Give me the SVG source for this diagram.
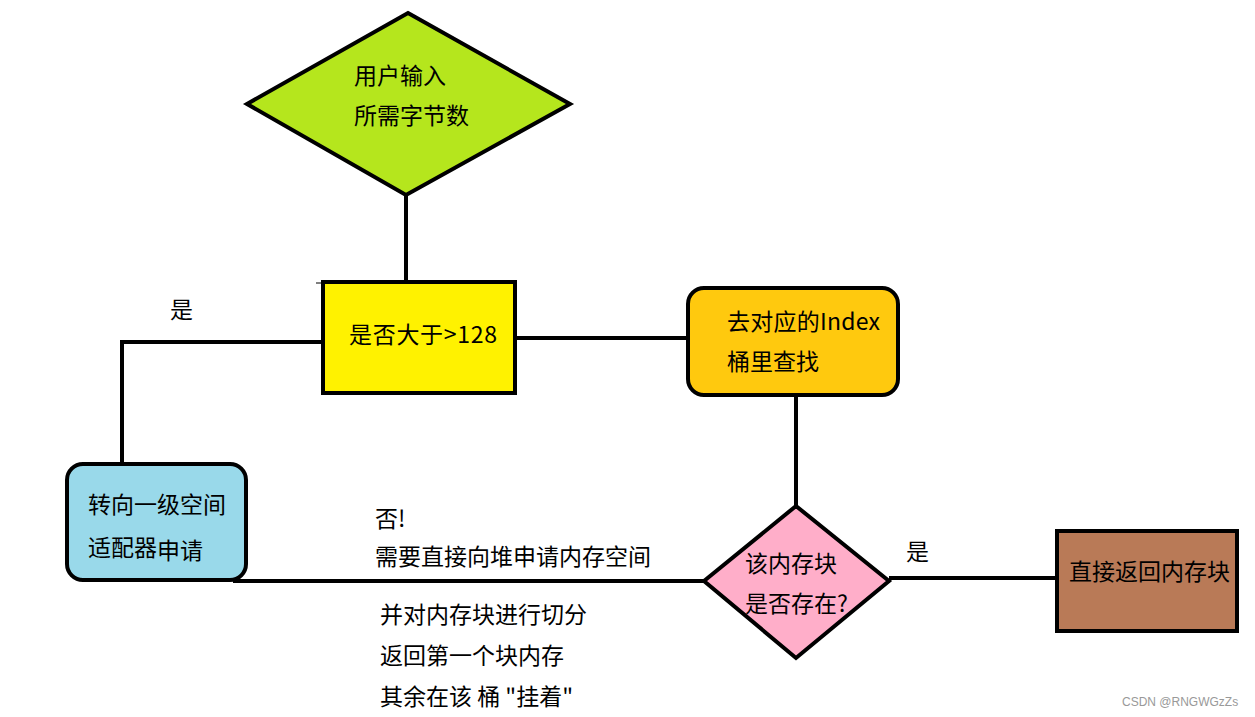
<svg xmlns="http://www.w3.org/2000/svg" width="1255" height="717" viewBox="0 0 1255 717">
<style>
.s{stroke:#000;stroke-width:4;stroke-linejoin:miter}
.t{font-family:"Noto Sans CJK SC","Microsoft YaHei",sans-serif;font-size:23px;fill:#000}
.c{fill:none;stroke:#000;stroke-width:4}
</style>
<rect width="1255" height="717" fill="#fff"/>
<g id="connectors">
<line class="c" x1="406" y1="195" x2="406" y2="282"/>
<polyline class="c" points="323,342 122,342 122,464"/>
<line x1="316" y1="283" x2="323" y2="283" stroke="#000" stroke-width="1"/>
<line class="c" x1="515" y1="338" x2="688" y2="338"/>
<line class="c" x1="796" y1="395" x2="796" y2="506"/>
<line class="c" x1="233" y1="581" x2="704" y2="581"/>
<line class="c" x1="889" y1="578" x2="1057" y2="578"/>
</g>
<g id="n1">
<polygon class="s" fill="#B5E61D" points="408,13 570,104 406,195 247,104"/>
<text class="t" x="354" y="84">用户输入</text>
<text class="t" x="354" y="124">所需字节数</text>
</g>
<g id="n2">
<rect class="s" fill="#FFF200" x="323" y="282" width="192" height="111"/>
<text class="t" x="349" y="343" textLength="148" lengthAdjust="spacing">是否大于&gt;128</text>
</g>
<g id="n3">
<rect class="s" fill="#99D9EA" x="67" y="464" width="179" height="116" rx="16"/>
<text class="t" x="88" y="513">转向一级空间</text>
<text class="t" x="88" y="556">适配器<tspan dy="3">申请</tspan></text>
</g>
<g id="n4">
<rect class="s" fill="#FFC90E" x="688" y="288" width="210" height="107" rx="16"/>
<text class="t" x="727" y="330" textLength="153" lengthAdjust="spacing">去对应的Index</text>
<text class="t" x="727" y="370">桶里查找</text>
</g>
<g id="n5">
<polygon class="s" fill="#FFAEC9" points="796,506 889,581 796,658 704,581"/>
<text class="t" x="745" y="572">该内存块</text>
<text class="t" x="745" y="612">是否存在?</text>
</g>
<g id="n6">
<rect class="s" fill="#B97A57" x="1057" y="531" width="180" height="100"/>
<text class="t" x="1069" y="580">直接返回内存块</text>
</g>
<g id="labels">
<text class="t" x="170" y="318" font-size="21">是</text>
<text class="t" x="906" y="560" font-size="21">是</text>
<text class="t" x="375" y="527">否!</text>
<text class="t" x="375" y="565">需要直接向堆申请内存空间</text>
<text class="t" x="380" y="623">并对内存块进行切分</text>
<text class="t" x="380" y="664">返回第一个块内存</text>
<text class="t" x="380" y="705">其余在该 桶 "挂着"</text>
<text x="1122" y="706" font-family="Liberation Sans,Arial,sans-serif" font-size="12" fill="#999">CSDN @RNGWGzZs</text>
</g>
</svg>
